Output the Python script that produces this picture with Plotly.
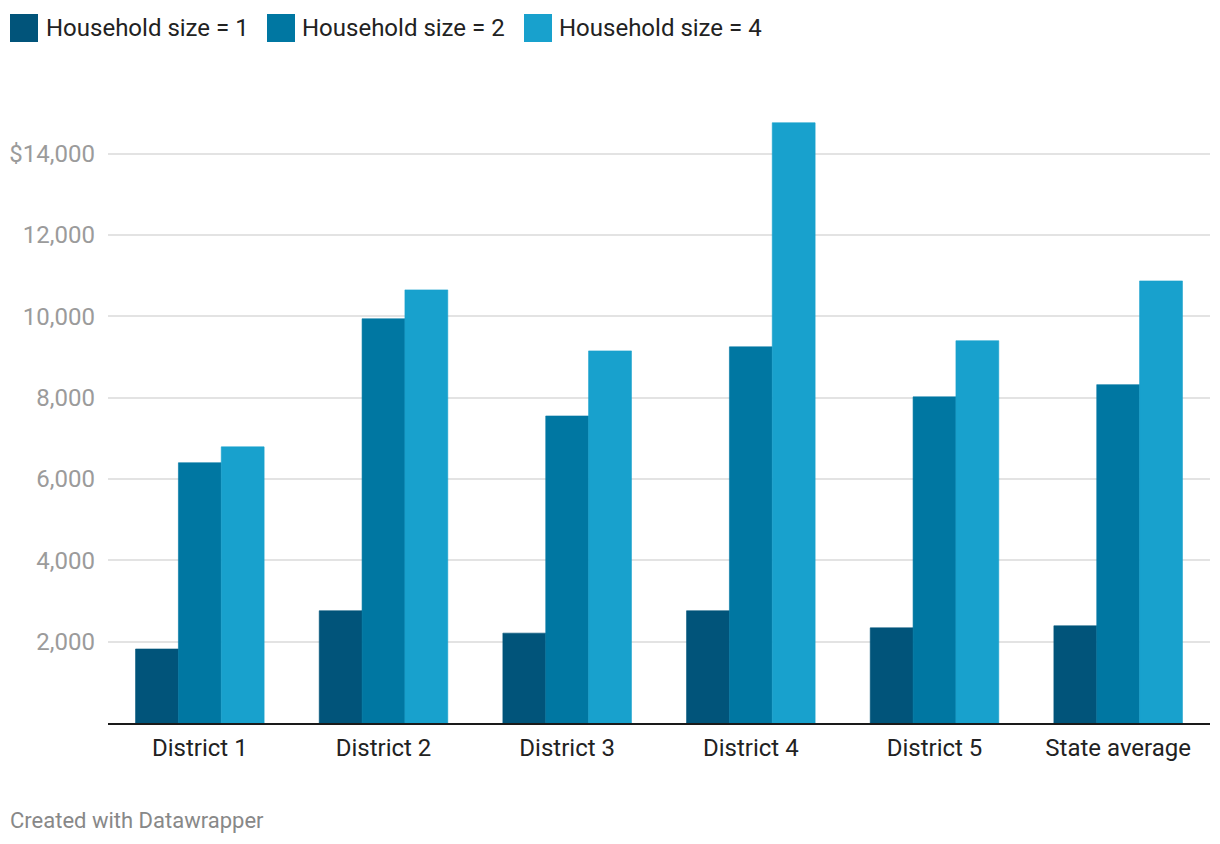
import plotly.graph_objects as go

categories = ["District 1", "District 2", "District 3", "District 4", "District 5", "State average"]
series_names = ["Household size = 1", "Household size = 2", "Household size = 4"]
size1 = [1820, 2760, 2210, 2760, 2340, 2390]
size2 = [6400, 9940, 7550, 9250, 8020, 8320]
size4 = [6790, 10650, 9150, 14760, 9400, 10870]
colors = ["#01547a", "#0077a2", "#18a1cd"]
tick_vals = [2000, 4000, 6000, 8000, 10000, 12000, 14000]
tick_text = ["2,000", "4,000", "6,000", "8,000", "10,000", "12,000", "$14,000"]

W, H = 1220, 844
OFF = 8  # page body margin
fig = go.Figure()
for name, vals, col in zip(series_names, [size1, size2, size4], colors):
    fig.add_trace(go.Bar(x=categories, y=vals, name=name,
                         marker=dict(color=col, line=dict(width=0.6, color=col)),
                         showlegend=False))

ml, mr, mt, mb = 100, 18, 105, 129
fig.update_layout(
    width=W, height=H,
    margin=dict(l=ml, r=mr, t=mt, b=mb, autoexpand=False),
    barmode="group", bargap=0.30, bargroupgap=0,
    plot_bgcolor="white", paper_bgcolor="white",
    font=dict(family="Roboto", size=24, color="#333333"),
    xaxis=dict(showgrid=False, showline=True, linecolor="#1a1a1a", linewidth=2, automargin=False,
               ticks="", ticklabelstandoff=2, tickfont=dict(size=24, color="#222222"), fixedrange=True),
    yaxis=dict(range=[0, 15000], tickvals=tick_vals, ticktext=tick_text, automargin=False,
               showgrid=True, gridcolor="#e3e3e3", gridwidth=1.5, zeroline=False,
               showline=False, ticks="", ticklabelstandoff=12,
               tickfont=dict(size=24, color="#9b9b9b")),
)

pw = W - ml - mr
ph = H - mt - mb
def px_x(x):
    return (x - OFF - ml) / pw
def px_y(y):
    return (H - mb - (y - OFF)) / ph

legend_items = [(10, 44), (267, 300), (524, 557)]
for (sx, tx), name, col in zip(legend_items, series_names, colors):
    fig.add_shape(type="rect", xref="paper", yref="paper",
                  x0=px_x(sx), x1=px_x(sx + 28), y0=px_y(42), y1=px_y(14),
                  fillcolor=col, line=dict(width=0))
    fig.add_annotation(xref="paper", yref="paper", x=px_x(tx), y=px_y(28),
                       text=name, showarrow=False, xanchor="left", yanchor="middle",
                       font=dict(size=24, color="#222222"))

fig.add_annotation(xref="paper", yref="paper", x=px_x(8), y=px_y(820),
                   text="Created with Datawrapper", showarrow=False,
                   xanchor="left", yanchor="middle",
                   font=dict(size=22, color="#888888"))

fig.write_html("out.html")
